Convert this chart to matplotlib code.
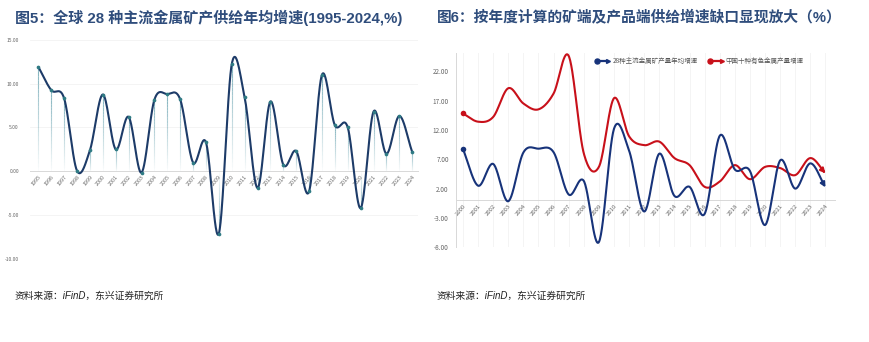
import numpy as np
import matplotlib
matplotlib.use('Agg')
import matplotlib.pyplot as plt
from matplotlib.collections import LineCollection
from matplotlib.lines import Line2D

plt.rcParams['font.family'] = ['Noto Sans CJK SC', 'DejaVu Sans']

# ---------------- data ----------------
years_left = list(range(1995, 2025))
supply28 = [11.9, 9.25, 8.3, 0.05, 2.4, 8.75, 2.5, 6.2, -0.15, 8.15,
            8.8, 8.2, 1.0, 3.3, -7.1, 12.2, 8.45, -1.9, 7.95, 0.75,
            2.3, -2.3, 11.0, 5.25, 5.0, -4.2, 6.8, 2.0, 6.3, 2.2]

years_right = list(range(2000, 2025))
mine28 = supply28[5:]
china10 = [14.8, 13.4, 14.2, 19.1, 16.5, 15.5, 18.2, 24.6, 8.0, 5.7,
           17.4, 10.9, 9.4, 10.0, 7.2, 6.0, 2.3, 3.2, 6.0, 3.6,
           5.7, 5.5, 4.3, 7.2, 4.6]

left_yticks = [-10, -5, 0, 5, 10, 15]
right_yticks = [-8, -3, 2, 7, 12, 17, 22]

title_left = "图5：全球 28 种主流金属矿产供给年均增速(1995-2024,%)"
title_right = "图6：按年度计算的矿端及产品端供给增速缺口显现放大（%）"
legend_labels = ["28种主流金属矿产量年均增速", "中国十种有色金属产量增速"]
source_text = "资料来源：iFinD，东兴证券研究所"

TITLE_C = '#2f4d7c'
NAVY = '#1d3b68'
TEAL = '#2f7b84'
BLUE = '#17337a'
RED = '#c8101a'
GRAY = '#666666'
TITLE_FONT = ['Liberation Sans', 'Noto Sans CJK SC']


def smooth(y, n=30):
    y = np.asarray(y, float)
    N = len(y)
    m = np.zeros(N)
    m[1:-1] = (y[2:] - y[:-2]) / 2
    m[0] = y[1] - y[0]
    m[-1] = y[-1] - y[-2]
    t = np.linspace(0, 1, n, endpoint=False)
    h00 = 2 * t**3 - 3 * t**2 + 1
    h10 = t**3 - 2 * t**2 + t
    h01 = -2 * t**3 + 3 * t**2
    h11 = t**3 - t**2
    xs, ys = [], []
    for i in range(N - 1):
        xs.append(i + t)
        ys.append(h00 * y[i] + h10 * m[i] + h01 * y[i + 1] + h11 * m[i + 1])
    xs.append([N - 1])
    ys.append([y[-1]])
    return np.concatenate(xs), np.concatenate(ys)


W, H = 870, 342
fig = plt.figure(figsize=(W / 100, H / 100), dpi=100)

# ---------------- left chart ----------------
ax1 = fig.add_axes([30 / W, 1 - 259 / H, 388 / W, (259 - 39.7) / H])
for s in ['top', 'right', 'left']:
    ax1.spines[s].set_visible(False)
ax1.spines['bottom'].set_position(('data', 0))
ax1.spines['bottom'].set_color('#d8d8d8')
ax1.spines['bottom'].set_linewidth(0.7)
ax1.set_xlim(-0.65, 29.45)
ax1.set_ylim(-10, 15)
for v in left_yticks:
    if v != 0:
        ax1.axhline(v, color='#f3f3f3', lw=0.6, zorder=0)
x = np.arange(len(supply28))
# gradient drop lines
segs, cols = [], []
for xi, v in zip(x, supply28):
    k = 24
    ys = np.linspace(v, 0, k + 1)
    for j in range(k):
        segs.append([(xi, ys[j]), (xi, ys[j + 1])])
        a = 0.75 * (1 - j / k)
        cols.append((0.35, 0.6, 0.66, a))
ax1.add_collection(LineCollection(segs, colors=cols, linewidths=0.8, zorder=1))
sx, sy = smooth(supply28)
ax1.plot(sx, sy, color=NAVY, lw=1.5, zorder=3, solid_capstyle='round')
ax1.scatter(x, supply28, s=7, color=TEAL, zorder=4, linewidths=0)
ax1.set_yticks(left_yticks)
ax1.set_yticklabels([f"{v:.2f}" for v in left_yticks], fontsize=3.6, color=GRAY)
ax1.set_xticks(x)
ax1.set_xticklabels([str(y) for y in years_left], fontsize=3.9, color=GRAY,
                    rotation=50, ha='right', rotation_mode='anchor')
ax1.tick_params(axis='both', length=0, pad=2)
ax1.tick_params(axis='y', pad=8)

# ---------------- right chart ----------------
ax2 = fig.add_axes([455.7 / W, 1 - 247.3 / H, (835 - 455.7) / W, (247.3 - 53) / H])
for s in ['top', 'right']:
    ax2.spines[s].set_visible(False)
ax2.spines['bottom'].set_position(('data', 0))
ax2.spines['bottom'].set_color('#d8d8d8')
ax2.spines['bottom'].set_linewidth(0.7)
ax2.spines['left'].set_color('#d8d8d8')
ax2.spines['left'].set_linewidth(0.7)
ax2.set_xlim(-0.48, 24.63)
ax2.set_ylim(-8, 25.1)
xr = np.arange(len(years_right))
for xi in xr:
    ax2.axvline(xi, color='#f2f2f2', lw=0.6, zorder=0)
for vals, c in [(china10, RED), (mine28, BLUE)]:
    rx, ry = smooth(vals)
    ax2.plot(rx[:-3], ry[:-3], color=c, lw=1.5, zorder=3, solid_capstyle='round')
    ax2.annotate('', xy=(rx[-1], ry[-1]), xytext=(rx[-5], ry[-5]),
                 arrowprops=dict(arrowstyle='-|>', color=c, lw=1.5,
                                 mutation_scale=7, shrinkA=0, shrinkB=0),
                 zorder=4)
    ax2.scatter([xr[0]], [vals[0]], s=16, color=c, zorder=4, linewidths=0)
ax2.set_yticks(right_yticks)
ax2.set_yticklabels([f"{v:.2f}" for v in right_yticks], fontsize=4.6, color=GRAY)
ax2.set_xticks(xr)
ax2.set_xticklabels([str(y) for y in years_right], fontsize=4.3, color=GRAY,
                    rotation=50, ha='right', rotation_mode='anchor')
ax2.tick_params(axis='both', length=0, pad=2)
ax2.tick_params(axis='y', pad=5)

# legend (manual)
def fx(px):
    return px / W

def fy(py):
    return 1 - py / H

for (x0, lab, c) in [(597.5, legend_labels[0], BLUE), (710.5, legend_labels[1], RED)]:
    fig.add_artist(Line2D([fx(x0), fx(x0 + 10)], [fy(61), fy(61)], color=c, lw=1.6))
    fig.add_artist(Line2D([fx(x0)], [fy(61)], marker='o', ms=3.6, color=c))
    fig.add_artist(Line2D([fx(x0 + 11)], [fy(61)], marker='>', ms=2.8, color=c))
    fig.text(fx(x0 + 15), fy(61), lab, fontsize=4.7, color='#555555', va='center', ha='left')

# titles & sources
fig.text(15 / W, 1 - 18 / H, title_left, fontsize=10.8, weight='bold', color=TITLE_C,
         va='center', family=TITLE_FONT)
fig.text(437 / W, 1 - 18 / H, title_right, fontsize=10.6, weight='bold', color=TITLE_C,
         va='center', family=TITLE_FONT)
fig.text(15 / W, 1 - 296 / H, source_text, fontsize=7, color='#222222', va='center',
         style='italic', family=TITLE_FONT)
fig.text(437 / W, 1 - 296 / H, source_text, fontsize=7, color='#222222', va='center',
         style='italic', family=TITLE_FONT)

fig.savefig('out.png', dpi=100, facecolor='white')
